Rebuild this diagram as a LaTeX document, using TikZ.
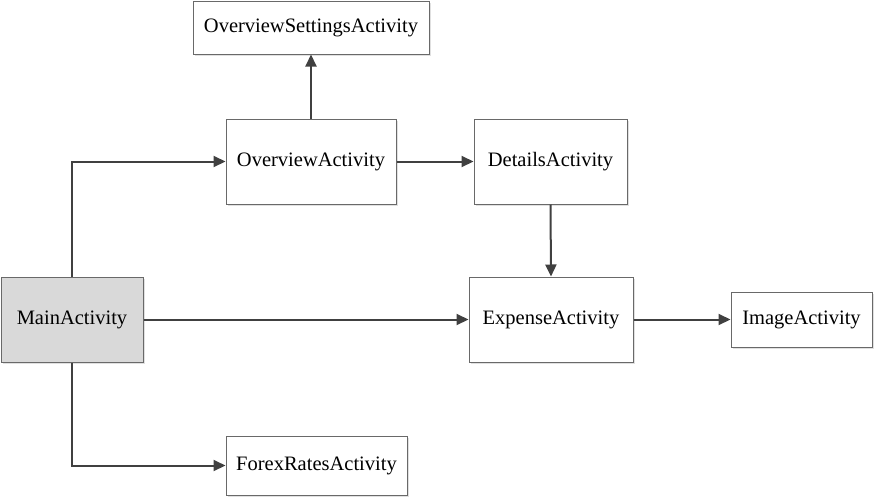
\documentclass[tikz,border=0pt]{standalone}
\usepackage{fontspec}
\setmainfont{Liberation Serif}
\usetikzlibrary{arrows.meta,shadows}
\definecolor{boxline}{RGB}{105,105,105}
\definecolor{arrowc}{RGB}{64,64,64}
\definecolor{mainfill}{RGB}{217,217,217}
\begin{document}
\begin{tikzpicture}[x=1pt,y=-1pt,
  actbox/.style={draw=boxline, line width=1pt, fill=white, rectangle, inner sep=0pt,
     font=\fontsize{20.5}{23}\selectfont,
     drop shadow={shadow xshift=2pt, shadow yshift=-2pt, fill=black, opacity=0.12}},
  conn/.style={draw=arrowc, line width=2pt, -{Triangle[length=12pt,width=11pt]}}]
\useasboundingbox (0,0) rectangle (876,499);
\node[actbox, minimum width=236pt, minimum height=53pt] (osa) at (311,27.5) {OverviewSettingsActivity};
\node[actbox, minimum width=170pt, minimum height=85pt] (oa) at (311,161.5) {OverviewActivity};
\node[actbox, minimum width=153pt, minimum height=85pt] (det) at (550.5,161.5) {DetailsActivity};
\node[actbox, fill=mainfill, minimum width=142pt, minimum height=85pt] (main) at (72,319.5) {MainActivity};
\node[actbox, minimum width=164pt, minimum height=85pt] (exp) at (551,319.5) {ExpenseActivity};
\node[actbox, minimum width=141pt, minimum height=55pt] (img) at (801.5,319.5) {ImageActivity};
\node[actbox, minimum width=181pt, minimum height=59pt] (forex) at (316.5,465.5) {ForexRatesActivity};
\draw[conn] (main.north) |- (oa.west);
\draw[conn] (oa.north) -- (osa.south);
\draw[conn] (oa.east) -- (det.west);
\draw[conn] (det.south) -- (exp.north);
\draw[conn] (main.east) -- (exp.west);
\draw[conn] (exp.east) -- (img.west);
\draw[conn] (main.south) |- (forex.west);
\end{tikzpicture}
\end{document}
